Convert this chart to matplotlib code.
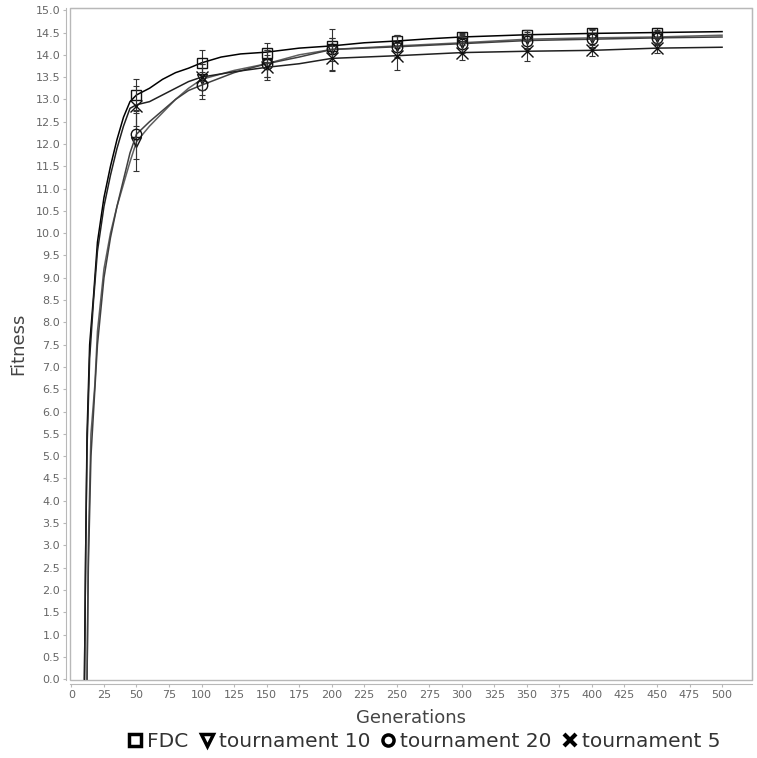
import numpy as np
import matplotlib
matplotlib.use("Agg")
import matplotlib.pyplot as plt
from matplotlib.lines import Line2D
from matplotlib.patches import Rectangle

# mean best fitness per generation
fdc_gen = [10, 11, 12, 14, 17, 20, 25, 30, 35, 40, 45, 50, 60, 70, 80, 90, 100, 115, 130, 150,
           175, 200, 225, 250, 275, 300, 350, 400, 450, 500]
fdc_fit = [0.0, 3.0, 5.5, 7.5, 8.6, 9.8, 10.8, 11.5, 12.1, 12.6, 12.95, 13.1, 13.25, 13.45, 13.6,
           13.7, 13.82, 13.95, 14.02, 14.06, 14.15, 14.2, 14.27, 14.31, 14.36, 14.4, 14.45, 14.48,
           14.5, 14.52]

t5_gen = [10, 11, 12, 14, 17, 20, 25, 30, 35, 40, 45, 50, 60, 70, 80, 90, 100, 125, 150, 175,
          200, 225, 250, 300, 350, 400, 450, 500]
t5_fit = [0.0, 3.0, 5.2, 7.2, 8.5, 9.6, 10.6, 11.3, 11.9, 12.4, 12.8, 12.88, 12.95, 13.1, 13.25,
          13.4, 13.5, 13.62, 13.72, 13.8, 13.92, 13.95, 13.98, 14.05, 14.08, 14.1, 14.15, 14.17]

t10_gen = [12, 13, 15, 18, 20, 25, 30, 35, 40, 45, 50, 60, 70, 80, 90, 100, 125, 150, 175, 200,
           250, 300, 350, 400, 450, 500]
t10_fit = [0.0, 3.0, 5.5, 6.6, 7.8, 9.2, 10.0, 10.6, 11.1, 11.6, 12.05, 12.4, 12.7, 13.0, 13.25,
           13.45, 13.65, 13.8, 14.0, 14.12, 14.2, 14.27, 14.35, 14.38, 14.4, 14.44]

t20_gen = [12, 13, 15, 18, 20, 25, 30, 35, 40, 45, 50, 60, 70, 80, 90, 100, 125, 150, 175, 200,
           250, 300, 350, 400, 450, 500]
t20_fit = [0.0, 2.5, 5.0, 6.5, 7.5, 9.0, 9.9, 10.6, 11.2, 11.8, 12.22, 12.5, 12.75, 13.0, 13.2,
           13.32, 13.6, 13.8, 13.95, 14.12, 14.18, 14.25, 14.32, 14.35, 14.38, 14.4]

# marker points every 50 generations with error bars
mark_gen = [50, 100, 150, 200, 250, 300, 350, 400, 450]
fdc_mark = [13.1, 13.82, 14.05, 14.2, 14.3, 14.4, 14.45, 14.48, 14.5]
t10_mark = [12.05, 13.45, 13.8, 14.12, 14.2, 14.27, 14.35, 14.38, 14.4]
t20_mark = [12.22, 13.32, 13.8, 14.12, 14.18, 14.25, 14.32, 14.35, 14.38]
t5_mark = [12.85, 13.5, 13.72, 13.92, 13.97, 14.05, 14.08, 14.1, 14.15]
fdc_err = [0.35, 0.28, 0.22, 0.18, 0.14, 0.1, 0.1, 0.1, 0.1]
t10_err = [0.65, 0.35, 0.3, 0.45, 0.25, 0.2, 0.2, 0.2, 0.15]
t20_err = [0.55, 0.3, 0.3, 0.25, 0.25, 0.2, 0.2, 0.2, 0.15]
t5_err = [0.45, 0.3, 0.28, 0.28, 0.3, 0.17, 0.22, 0.12, 0.12]

labels = ["FDC", "tournament 10", "tournament 20", "tournament 5"]

series = [
    (fdc_gen, fdc_fit, fdc_mark, fdc_err, "s", "#000000", 7.5),
    (t10_gen, t10_fit, t10_mark, t10_err, "v", "#606060", 7.5),
    (t20_gen, t20_fit, t20_mark, t20_err, "o", "#404040", 7.5),
    (t5_gen, t5_fit, t5_mark, t5_err, "x", "#202020", 8.5),
]

fig = plt.figure(figsize=(7.57, 7.58), dpi=100)
ax = fig.add_axes([70 / 757, 1 - 680 / 758, 682 / 757, 672 / 758])

for gen, fit, mk, err, m, col, ms in series:
    ax.plot(gen, fit, color=col, lw=1.1)
    ax.errorbar(mark_gen, mk, yerr=err, fmt="none", ecolor="#333333", elinewidth=0.8,
                capsize=2.5, capthick=0.8)
    if m == "x":
        ax.plot(mark_gen, mk, ls="none", marker=m, ms=ms, mew=1.0, color="#111111")
    else:
        ax.plot(mark_gen, mk, ls="none", marker=m, ms=ms, mew=1.0, mfc="none", mec="#111111")

ax.set_xlim(-1.1, 523)
ax.set_ylim(-0.02, 15.05)
ax.set_xticks(np.arange(0, 501, 25))
ax.set_yticks(np.arange(0, 15.01, 0.5))
ax.set_yticklabels(["%.1f" % v for v in np.arange(0, 15.01, 0.5)])

grey = "#b8b8b8"
for s in ["top", "right"]:
    ax.spines[s].set_color(grey)
for s in ["left", "bottom"]:
    ax.spines[s].set_position(("outward", 3))
    ax.spines[s].set_color(grey)
ax.add_patch(Rectangle((0, 0), 1, 1, transform=ax.transAxes, fill=False, ec=grey, lw=1.0,
                       clip_on=False))
ax.tick_params(axis="both", colors=grey, labelcolor="#666666", labelsize=8, length=2,
               width=0.8, pad=2)

ax.set_xlabel("Generations", fontsize=13, color="#444444", labelpad=7)
ax.set_ylabel("Fitness", fontsize=13, color="#444444", labelpad=6)

handles = [
    Line2D([], [], ls="none", marker="s", ms=8, mew=2.5, mfc="none", mec="black"),
    Line2D([], [], ls="none", marker="v", ms=9, mew=2.5, mfc="none", mec="black"),
    Line2D([], [], ls="none", marker="o", ms=8, mew=2.5, mfc="none", mec="black"),
    Line2D([], [], ls="none", marker="x", ms=9, mew=3, color="black"),
]
fig.legend(handles, labels, loc="center", bbox_to_anchor=(0.56, 0.022), ncol=4, frameon=False,
           fontsize=14.5, handlelength=0.8, handletextpad=0.2, columnspacing=0.5,
           labelcolor="#333333")

fig.savefig("out.png", dpi=100)
